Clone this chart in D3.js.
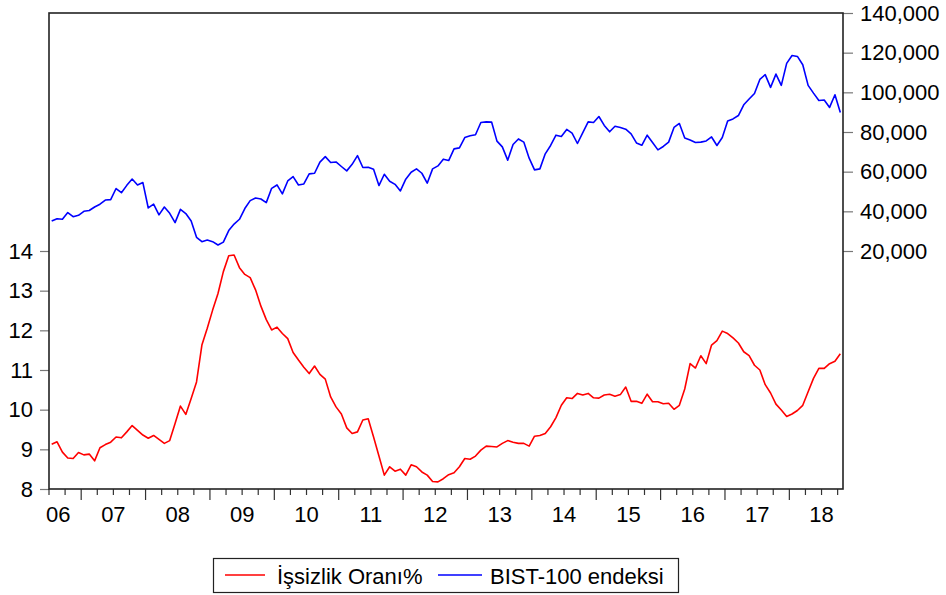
<!DOCTYPE html>
<html>
<head>
<meta charset="utf-8">
<script src="https://cdn.jsdelivr.net/npm/d3@7"></script>
<style>
html,body{margin:0;padding:0;background:#fff;}
svg{display:block;font-family:"Liberation Sans",Arial,sans-serif;}
</style>
</head>
<body>
<svg id="chart" width="946" height="595"></svg>
<script>
// ---- data (monthly, 2006M07 .. 2018M10) ----
const startYear = 2006, startMonth = 7;
const unemployment = [
9.13,9.19,8.93,8.78,8.77,8.92,8.86,8.88,8.71,9.04,
9.12,9.18,9.31,9.29,9.44,9.60,9.48,9.36,9.28,9.35,
9.25,9.15,9.22,9.65,10.09,9.88,10.28,10.70,11.63,12.05,
12.51,12.93,13.48,13.88,13.90,13.58,13.41,13.33,13.02,12.61,
12.27,12.01,12.08,11.92,11.79,11.44,11.25,11.07,10.91,11.10,
10.89,10.77,10.32,10.07,9.89,9.54,9.40,9.44,9.74,9.77,
9.31,8.83,8.35,8.56,8.45,8.50,8.35,8.61,8.56,8.43,
8.35,8.19,8.18,8.26,8.36,8.41,8.56,8.77,8.75,8.83,
8.98,9.08,9.07,9.06,9.15,9.22,9.18,9.15,9.15,9.08,
9.33,9.35,9.40,9.57,9.80,10.11,10.30,10.28,10.41,10.37,
10.41,10.30,10.29,10.37,10.39,10.34,10.38,10.57,10.21,10.21,
10.16,10.39,10.20,10.20,10.15,10.16,10.01,10.11,10.52,11.16,
11.05,11.36,11.16,11.63,11.74,11.98,11.92,11.81,11.68,11.46,
11.36,11.12,11.00,10.63,10.42,10.14,9.99,9.83,9.89,9.98,
10.11,10.45,10.79,11.04,11.04,11.16,11.22,11.41
];
const bist100 = [
35100,36300,36000,39400,37300,38000,40000,40400,42200,43600,
45700,45900,51500,49400,53100,56300,53300,54500,41700,43600,
38200,42200,39000,34300,41000,38900,35100,26900,24700,25500,
24700,23000,24500,30300,33600,36000,41400,45400,46700,46200,
44400,51600,53300,48800,55300,57500,53300,53800,58900,59200,
64800,67600,64600,64900,62600,60400,63700,68100,62100,62200,
61200,53000,58700,55200,53600,50300,56200,59700,61400,59200,
54200,61400,62900,66300,65600,71500,72000,77200,78100,78600,
84800,85100,85000,75400,72500,65800,73700,76500,74900,66800,
60900,61400,69000,73200,78400,77700,81300,79400,74200,79700,
85100,84800,87800,83300,80100,82900,82300,81400,79100,74500,
73300,78400,74700,71000,72700,74900,82300,84300,77000,76000,
74700,74900,75500,77500,73200,77200,85500,86600,88300,93700,
96600,99400,106500,108900,102500,109200,103500,114600,118600,118100,
113900,103500,99600,95900,96100,92400,98800,89800
];
const leftTicks = [8, 9, 10, 11, 12, 13, 14];
const rightTicks = [20000, 40000, 60000, 80000, 100000, 120000, 140000];
const yearLabels = ["06","07","08","09","10","11","12","13","14","15","16","17","18"];
const seriesNames = ["İşsizlik Oranı%", "BIST-100 endeksi"];
const seriesColors = ["#ff0000", "#0000ff"];

// ---- layout ----
const svg = d3.select("#chart");
const L = 49, R = 843, T = 13, B = 489;
const n = unemployment.length;
const fs = 22;

const x = d3.scaleLinear().domain([0, n]).range([L, R]);
const yL = d3.scaleLinear().domain([8, 20]).range([B, T]);
const yR = d3.scaleLinear().domain([-100000, 140000]).range([B, T]);

// ---- lines ----
const lineL = d3.line().x((d, i) => x(i + 0.5)).y(d => yL(d));
const lineR = d3.line().x((d, i) => x(i + 0.5)).y(d => yR(d));
svg.append("path").datum(bist100).attr("d", lineR)
  .attr("fill", "none").attr("stroke", seriesColors[1]).attr("stroke-width", 1.6).attr("stroke-linejoin", "round");
svg.append("path").datum(unemployment).attr("d", lineL)
  .attr("fill", "none").attr("stroke", seriesColors[0]).attr("stroke-width", 1.6).attr("stroke-linejoin", "round");

// ---- left axis ----
const gl = svg.append("g").attr("transform", `translate(${L},0)`)
  .call(d3.axisLeft(yL).tickValues(leftTicks).tickFormat(d3.format("d")).tickSize(9).tickPadding(7));
gl.select(".domain").remove();
gl.selectAll(".tick line").attr("stroke", "#777").attr("stroke-width", 1.2);
gl.selectAll(".tick text").attr("font-size", fs).attr("fill", "#000").attr("font-family", "Liberation Sans, Arial, sans-serif");

// ---- right axis ----
const gr = svg.append("g").attr("transform", `translate(${R},0)`)
  .call(d3.axisRight(yR).tickValues(rightTicks).tickFormat(d3.format(",")).tickSize(10).tickPadding(7));
gr.select(".domain").remove();
gr.selectAll(".tick line").attr("stroke", "#777").attr("stroke-width", 1.2);
gr.selectAll(".tick text").attr("font-size", fs).attr("fill", "#000").attr("font-family", "Liberation Sans, Arial, sans-serif");

// ---- bottom axis: quarterly minor ticks, yearly major ticks ----
const firstYearStart = -(startMonth - 1); // index of Jan of start year
const quarterTicks = d3.range(0, n, 3);
const yearTicks = quarterTicks.filter(i => (i - firstYearStart) % 12 === 0);
const gb = svg.append("g");
gb.selectAll("line.minor").data(quarterTicks).join("line")
  .attr("x1", d => x(d)).attr("x2", d => x(d))
  .attr("y1", B).attr("y2", d => yearTicks.includes(d) ? B + 11 : B + 6)
  .attr("stroke", "#333").attr("stroke-width", 1.2);
gb.selectAll("text").data(yearLabels).join("text")
  .attr("x", (d, k) => {
    const mid = firstYearStart + k * 12 + 6;
    return k === 0 ? x(0) - 3 : x(mid);
  })
  .attr("text-anchor", (d, k) => k === 0 ? "start" : "middle")
  .attr("y", 522)
  .attr("font-size", fs).attr("fill", "#000")
  .text(d => d);

// ---- frame ----
svg.append("rect").attr("x", L).attr("y", T).attr("width", R - L).attr("height", B - T)
  .attr("fill", "none").attr("stroke", "#222").attr("stroke-width", 1.6);

// ---- legend ----
const lg = svg.append("g");
lg.append("rect").attr("x", 213.5).attr("y", 558.5).attr("width", 465).attr("height", 34)
  .attr("fill", "#fff").attr("stroke", "#222").attr("stroke-width", 1.2);
const legendItems = [
  {name: seriesNames[0], color: seriesColors[0], x1: 225, x2: 265, tx: 277},
  {name: seriesNames[1], color: seriesColors[1], x1: 438, x2: 482, tx: 490}
];
legendItems.forEach(it => {
  lg.append("line").attr("x1", it.x1).attr("x2", it.x2).attr("y1", 575).attr("y2", 575)
    .attr("stroke", it.color).attr("stroke-width", 1.6);
  lg.append("text").attr("x", it.tx).attr("y", 583.5).attr("font-size", fs).attr("fill", "#000").text(it.name);
});
</script>
</body>
</html>
